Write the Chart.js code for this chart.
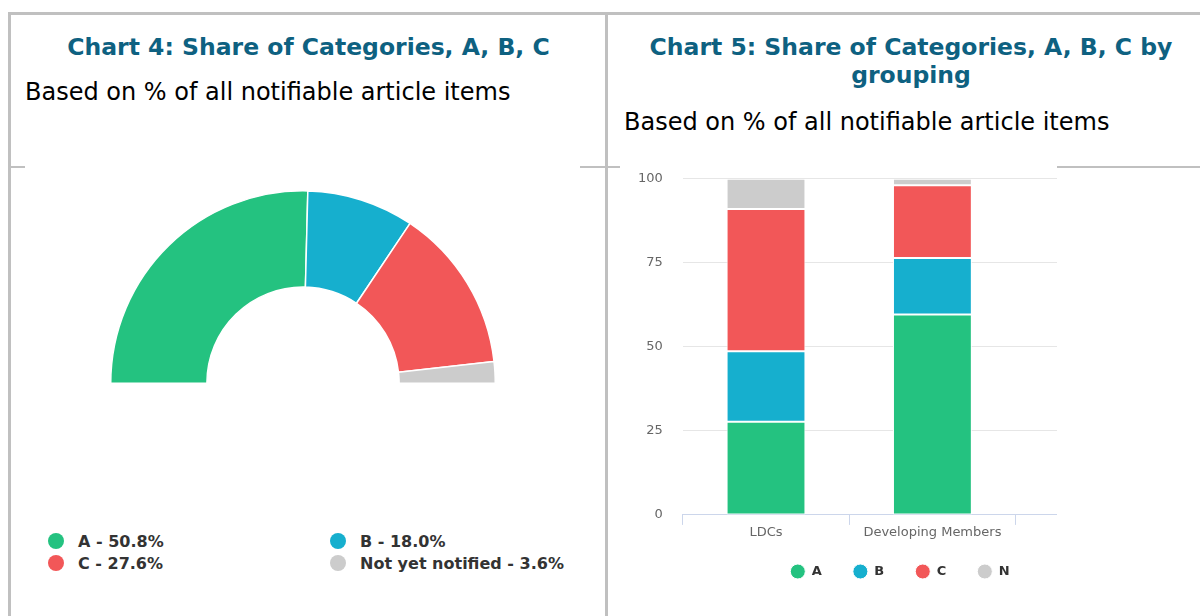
<!DOCTYPE html>
<html>
<head>
<meta charset="utf-8">
<script src="https://cdn.jsdelivr.net/npm/chart.js@4/dist/chart.umd.min.js"></script>
<style>
  body { margin: 0; width: 1200px; height: 616px; overflow: hidden; background: #fff; position: relative; font-family: "DejaVu Sans", sans-serif; }
  .line { position: absolute; background: #c0c0c0; }
  .title { position: absolute; text-align: center; color: #0e6181; font-weight: bold; font-size: 23.5px; line-height: 28px; }
  .sub { position: absolute; color: #000; font-size: 24px; line-height: 28px; white-space: nowrap; }
  .box { position: absolute; background: #fff; overflow: hidden; }
  #legend4 { position: absolute; left: 48px; top: 530px; display: grid; grid-template-columns: 282px 282px; grid-auto-rows: 22px; }
  #legend4 .item { display: flex; align-items: center; font-weight: bold; font-size: 16px; color: #333; white-space: nowrap; }
  #legend4 .dot { width: 16px; height: 16px; border-radius: 50%; margin-right: 14px; }
</style>
</head>
<body>
<div class="line" style="left:8px;top:12px;width:1192px;height:3px"></div>
<div class="line" style="left:8px;top:12px;width:3px;height:604px"></div>
<div class="line" style="left:605px;top:12px;width:3px;height:604px"></div>
<div class="line" style="left:8px;top:166px;width:1192px;height:2px"></div>

<div class="title" style="left:11px;top:33px;width:595px">Chart 4: Share of Categories, A, B, C</div>
<div class="sub" style="left:25px;top:78px">Based on % of all notifiable article items</div>

<div class="title" style="left:622px;top:33px;width:578px">Chart 5: Share of Categories, A, B, C by<br>grouping</div>
<div class="sub" style="left:624px;top:108px">Based on % of all notifiable article items</div>

<div class="box" style="left:25px;top:160px;width:555px;height:456px">
  <div style="position:absolute;left:85px;top:30px;width:386px;height:194px"><canvas id="chart4"></canvas></div>
</div>
<div id="legend4"></div>

<div class="box" style="left:620px;top:160px;width:437px;height:456px">
  <div style="position:absolute;left:-13px;top:-9.5px;width:577px;height:465.5px"><canvas id="chart5"></canvas></div>
</div>

<script>
// chart 4: overall shares
const shareLabels = ["A", "B", "C", "Not yet notified"];
const shareValues = [50.8, 18.0, 27.6, 3.6];
const colors = ["#24c280", "#16afce", "#f25758", "#cccccc"];

// chart 5: shares by grouping
const groups = ["LDCs", "Developing Members"];
const seriesNames = ["A", "B", "C", "N"];
const valuesA = [27.7, 59.6];
const valuesB = [21.0, 16.8];
const valuesC = [42.3, 21.7];
const valuesN = [9.0, 1.9];
const yTicks = [0, 25, 50, 75, 100];

new Chart(document.getElementById("chart4"), {
	type: 'doughnut',
	data: {
		labels: shareLabels,
		datasets: [{
			data: shareValues,
			backgroundColor: colors,
			borderColor: "#ffffff",
			borderWidth: 1.5
		}]
	},
	options: {
		responsive: true,
		maintainAspectRatio: false,
		animation: false,
		rotation: -90,
		circumference: 180,
		cutout: '50%',
		plugins: { legend: { display: false } }
	}
});

// html legend, two columns like the original
const legend4 = document.getElementById("legend4");
shareLabels.forEach(function (lab, i) {
	const item = document.createElement("div");
	item.className = "item";
	item.innerHTML = '<span class="dot" style="background:' + colors[i] + '"></span>' + lab + ' - ' + shareValues[i].toFixed(1) + '%';
	legend4.appendChild(item);
});

// pull the legend a bit closer to the axis labels
const liftLegend = {
	id: 'liftLegend',
	afterLayout: function (chart) {
		chart.legend.top -= 6.5;
		chart.legend.bottom -= 6.5;
	}
};

const series = [valuesA, valuesB, valuesC, valuesN];
new Chart(document.getElementById("chart5"), {
	type: 'bar',
	data: {
		labels: groups.concat([""]),
		datasets: series.map(function (vals, i) {
			return {
				label: seriesNames[i],
				data: vals,
				backgroundColor: colors[i],
				borderColor: "#ffffff",
				borderWidth: 1,
				borderSkipped: false,
				barPercentage: 0.474,
				categoryPercentage: 1
			};
		})
	},
	plugins: [liftLegend],
	options: {
		responsive: true,
		maintainAspectRatio: false,
		animation: false,
		layout: { padding: { left: 11, right: 2, top: 10, bottom: 22 } },
		scales: {
			x: {
				stacked: true,
				grid: { offset: true, drawOnChartArea: false, color: "#ccd6eb", tickLength: 10 },
				border: { color: "#ccd6eb" },
				ticks: { color: "#666", font: { family: "DejaVu Sans", size: 13 }, padding: 0 }
			},
			y: {
				stacked: true,
				min: 0,
				max: 100,
				afterBuildTicks: function (axis) { axis.ticks = yTicks.map(function (v) { return { value: v }; }); },
				grid: { color: "#e6e6e6", drawTicks: false },
				border: { display: false },
				ticks: { color: "#666", font: { family: "DejaVu Sans", size: 13 }, padding: 20 }
			}
		},
		plugins: {
			legend: {
				position: 'bottom',
				labels: {
					usePointStyle: true,
					pointStyle: 'circle',
					pointStyleWidth: 15,
					boxHeight: 10.6,
					padding: 31,
					color: "#333",
					font: { family: "DejaVu Sans", size: 13, weight: 'bold' }
				}
			}
		}
	}
});
</script>
</body>
</html>
